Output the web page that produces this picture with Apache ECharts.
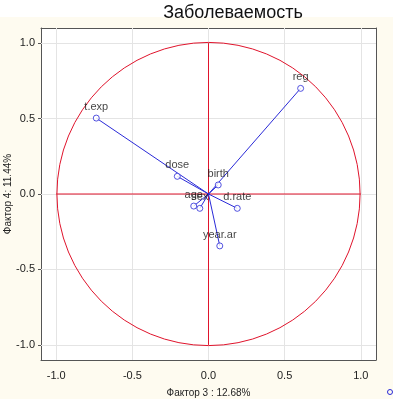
<!DOCTYPE html>
<html>
<head>
<meta charset="utf-8">
<script src="https://cdn.jsdelivr.net/npm/echarts@6/dist/echarts.min.js"></script>
<style>
  html, body { margin: 0; padding: 0; background: #fff; }
  #chart { width: 393px; height: 399px; }
</style>
</head>
<body>
<div id="chart"></div>
<script>
// variable names and factor loadings (Factor 3, Factor 4)
const names = ["reg", "t.exp", "dose", "birth", "d.rate", "year.ar", "age", "sex"];
const f3 = [0.605, -0.737, -0.205, 0.064, 0.189, 0.074, -0.097, -0.057];
const f4 = [0.70, 0.503, 0.117, 0.06, -0.095, -0.344, -0.08, -0.095];
const ticks = [-1.0, -0.5, 0.0, 0.5, 1.0];

const blue = "#2a2ad8";
const red = "#e0142c";
const points = names.map((n, i) => ({ name: n, value: [f3[i], f4[i]] }));

const chart = echarts.init(document.getElementById("chart"));

// ===== grid lines at tick values =====
const gridLines = ticks
  .map((t) => ({ xAxis: t }))
  .concat(ticks.map((t) => ({ yAxis: t })));

const axisCommon = {
  type: "value",
  min: -1.1,
  max: 1.1,
  axisLine: { show: true, onZero: false, lineStyle: { color: "#555", width: 1 } },
  splitLine: { show: false },
};

const option = {
  animation: false,
  graphic: [
    { type: "rect", shape: { x: 0, y: 17, width: 393, height: 382 }, style: { fill: "#fefbf0" }, z: -10 },
    { type: "circle", shape: { cx: 390, cy: 392, r: 2.5 }, style: { fill: "none", stroke: blue, lineWidth: 1 } },
  ],
  title: {
    text: "Заболеваемость",
    left: 228,
    top: -1,
    textAlign: "center",
    textStyle: { fontFamily: "Liberation Sans", fontSize: 18, fontWeight: "normal", color: "#111" },
  },
  grid: {
    left: 41, right: 17, top: 28, bottom: 39,
    outerBoundsMode: "none",
    containLabel: false,
    show: true, backgroundColor: "#fff", borderWidth: 0,
  },
  xAxis: [
    {
      ...axisCommon,
      position: "bottom",
      name: "Фактор 3 : 12.68%",
      nameLocation: "middle",
      nameGap: 28,
      nameMoveOverlap: false,
      nameTextStyle: { fontFamily: "Liberation Sans", fontSize: 10, color: "#222" },
      axisTick: { show: true, inside: true, length: 3, customValues: ticks, lineStyle: { color: "#555" } },
      axisLabel: {
        customValues: ticks,
        formatter: (v) => v.toFixed(1),
        fontFamily: "Liberation Sans",
        fontSize: 11,
        color: "#222",
        margin: 10,
      },
    },
    {
      ...axisCommon,
      position: "top",
      axisTick: { show: true, inside: true, length: 3, customValues: ticks, lineStyle: { color: "#555" } },
      axisLabel: { show: false },
    },
  ],
  yAxis: [
    {
      ...axisCommon,
      position: "left",
      name: "Фактор 4: 11.44%",
      nameLocation: "middle",
      nameGap: 28,
      nameMoveOverlap: false,
      nameRotate: 90,
      nameTextStyle: { fontFamily: "Liberation Sans", fontSize: 10, color: "#222" },
      axisTick: { show: true, length: 3, customValues: ticks, lineStyle: { color: "#555" } },
      axisLabel: {
        customValues: ticks,
        formatter: (v) => v.toFixed(1),
        fontFamily: "Liberation Sans",
        fontSize: 11,
        color: "#222",
        margin: 6,
      },
    },
    {
      ...axisCommon,
      position: "right",
      axisTick: { show: true, inside: true, length: 3, customValues: ticks, lineStyle: { color: "#555" } },
      axisLabel: { show: false },
    },
  ],
  series: [
    // unit circle and red cross axes
    {
      type: "custom",
      silent: true,
      data: [[0, 0]],
      z: 2,
      renderItem: (params, api) => {
        const c = api.coord([0, 0]);
        const sz = api.size([1, 1]);
        const r = (sz[0] + sz[1]) / 2;
        const l = api.coord([-1, 0]);
        const rr = api.coord([1, 0]);
        const t = api.coord([0, 1]);
        const b = api.coord([0, -1]);
        const st = { stroke: red, fill: "none", lineWidth: 1 };
        return {
          type: "group",
          children: [
            { type: "circle", shape: { cx: c[0], cy: c[1], r: r }, style: st },
            { type: "line", shape: { x1: l[0], y1: l[1], x2: rr[0], y2: rr[1] }, style: st },
            { type: "line", shape: { x1: t[0], y1: t[1], x2: b[0], y2: b[1] }, style: st },
          ],
        };
      },
      markLine: {
        silent: true,
        symbol: "none",
        label: { show: false },
        lineStyle: { color: "#e4e4e4", type: "solid", width: 1 },
        data: gridLines,
        z: 1,
      },
    },
    // vectors from origin
    {
      type: "custom",
      silent: true,
      z: 3,
      data: points.map((p) => p.value),
      renderItem: (params, api) => {
        const o = api.coord([0, 0]);
        const p = api.coord([api.value(0), api.value(1)]);
        return {
          type: "line",
          shape: { x1: o[0], y1: o[1], x2: p[0], y2: p[1] },
          style: { stroke: blue, lineWidth: 1 },
        };
      },
    },
    // endpoints with labels
    {
      type: "scatter",
      z: 4,
      symbol: "circle",
      symbolSize: 6,
      itemStyle: { color: "#fff", borderColor: blue, borderWidth: 1 },
      label: {
        show: true,
        position: "top",
        distance: 2,
        formatter: (p) => p.name,
        fontFamily: "Liberation Sans",
        fontSize: 11,
        color: "#111",
      },
      data: points,
    },
  ],
};

chart.setOption(option);
</script>
</body>
</html>
